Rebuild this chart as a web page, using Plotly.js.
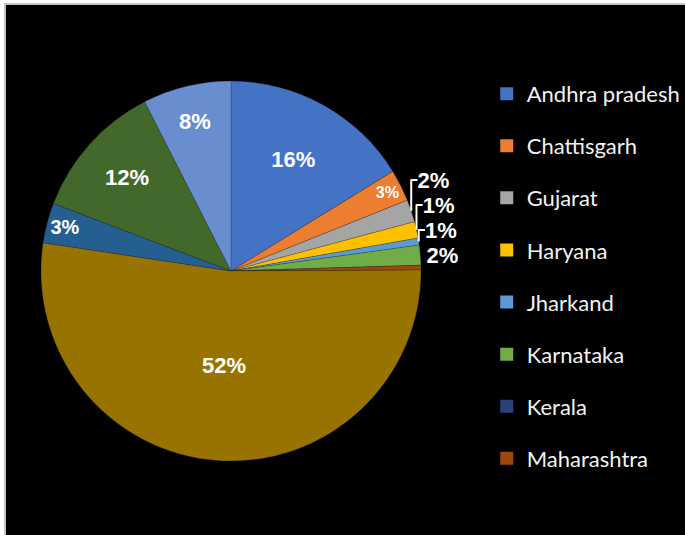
<!DOCTYPE html>
<html>
<head>
<meta charset="utf-8">
<script src="https://cdn.plot.ly/plotly-3.0.1.min.js"></script>
<style>
  html, body { margin: 0; padding: 0; background: #ffffff; width: 685px; height: 535px; overflow: hidden; }
  #frame { position: absolute; left: 4px; top: 3px; border-left: 2px solid #c3c3c3; border-top: 2px solid #c3c3c3; }
  #chart { width: 679px; height: 530px; }
</style>
</head>
<body>
<div id="frame"><div id="chart"></div></div>
<script>
// ---- data ----
const states = ["Andhra pradesh", "Chattisgarh", "Gujarat", "Haryana", "Jharkand", "Karnataka",
                "Kerala", "Maharashtra", "Odisha", "Rajasthan", "Tamil nadu", "Telangana", "Uttar pradesh"];
const shares = [16.2, 2.7, 1.9, 1.4, 0.6, 1.7, 0, 0.4, 0, 52.4, 3.4, 11.7, 7.5];
const sliceColors = ["#4472C4", "#ED7D31", "#A5A5A5", "#FFC000", "#5B9BD5", "#70AD47",
                     "#264478", "#9E480E", "#636363", "#997300", "#255E91", "#43682B", "#698ED0"];
const legendCount = 8; // entries visible in the legend

// ---- derived ----
const total = shares.reduce((a, b) => a + b, 0);
const pctText = shares.map(v => {
  const p = Math.round(v / total * 100);
  return p > 0 ? p + "%" : "";
});
const positions = shares.map(v => (v / total < 0.025 ? "outside" : "inside"));

const pie = {
  type: "pie",
  labels: states,
  values: shares,
  text: pctText,
  textinfo: "text",
  textposition: positions,
  insidetextorientation: "horizontal",
  sort: false,
  direction: "clockwise",
  rotation: 0,
  showlegend: false,
  automargin: false,
  marker: { colors: sliceColors, line: { width: 0.4, color: "rgba(40,40,40,0.6)" } },
  textfont: { family: "Liberation Sans, Arial, sans-serif", size: 22, color: "#ffffff", weight: "bold" },
  insidetextfont: { family: "Liberation Sans, Arial, sans-serif", size: 22, color: "#ffffff", weight: "bold" },
  outsidetextfont: { family: "Liberation Sans, Arial, sans-serif", size: 22, color: "#ffffff", weight: "bold" },
  domain: { x: [0.05155, 0.6112], y: [0.1396, 0.8566] },
  hoverinfo: "label+percent"
};

const legendTraces = states.slice(0, legendCount).map((s, i) => ({
  type: "scatter",
  mode: "markers",
  x: [null], y: [null],
  name: s,
  legendgroup: "g" + i,
  marker: { symbol: "square", size: 13, color: sliceColors[i], line: { width: 0 } },
  hoverinfo: "skip"
}));

const layout = {
  width: 679, height: 530,
  margin: { l: 0, r: 0, t: 0, b: 0 },
  paper_bgcolor: "#000000",
  plot_bgcolor: "#000000",
  xaxis: { visible: false },
  yaxis: { visible: false },
  showlegend: true,
  legend: {
    x: 0.708, xanchor: "left",
    y: 0.872, yanchor: "top",
    bgcolor: "rgba(0,0,0,0)",
    font: { family: "Lato, sans-serif", size: 22, color: "#f2f2f2" },
    tracegroupgap: 20.5,
    itemclick: false, itemdoubleclick: false
  }
};

Plotly.newPlot("chart", [pie].concat(legendTraces), layout, { staticPlot: true, displayModeBar: false });
</script>
</body>
</html>
